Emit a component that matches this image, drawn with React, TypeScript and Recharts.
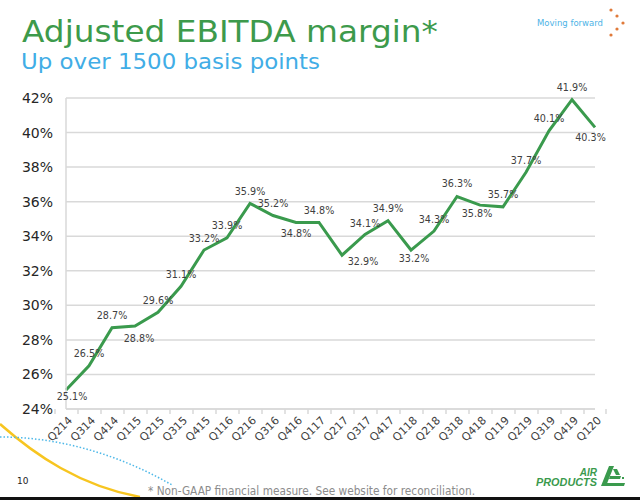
import React from 'react';
import { LineChart, Line, XAxis, YAxis, CartesianGrid, LabelList } from 'recharts';

// quarters and adjusted EBITDA margin (%)
const quarters = [
  'Q214', 'Q314', 'Q414', 'Q115', 'Q215', 'Q315', 'Q415', 'Q116', 'Q216', 'Q316', 'Q416', 'Q117',
  'Q217', 'Q317', 'Q417', 'Q118', 'Q218', 'Q318', 'Q418', 'Q119', 'Q219', 'Q319', 'Q419', 'Q120',
];
const marginPct = [
  25.1, 26.5, 28.7, 28.8, 29.6, 31.1, 33.2, 33.9, 35.9, 35.2, 34.8, 34.8,
  32.9, 34.1, 34.9, 33.2, 34.3, 36.3, 35.8, 35.7, 37.7, 40.1, 41.9, 40.3,
];
const yTicks = [24, 26, 28, 30, 32, 34, 36, 38, 40, 42];

const data = quarters.map((q, i) => ({ q, v: marginPct[i] }));

// where each data label sits relative to its point (label centre)
const labelShift: [number, number][] = [
  [6, 7], [0, -12], [0, -12], [4, 12], [0, -12], [0, -12], [0, -12], [0, -12],
  [0, -12], [0, -12], [0, 11.5], [0, -12], [21, 6.5], [0, -11], [0, -12], [3, 8],
  [0, -12], [0, -12.5], [-3, 8.5], [0, -12], [0, -12], [0, -12], [0, -12.5], [-4.5, 10],
];

const GREEN = '#3a9a4d';
const GRID = '#d9d9d9';
const FONT = 'DejaVu Sans, Verdana, sans-serif';

const renderLabel = (props: any) => {
  const { x, y, value, index } = props;
  const [dx, dy] = labelShift[index] || [0, -12];
  return (
    <text x={x + dx} y={y + dy + 3.5} textAnchor="middle" fontSize={9.6} fontFamily={FONT} fill="#404040">
      {value.toFixed(1)}%
    </text>
  );
};

const XTick = (props: any) => {
  const { x, y, payload, index } = props;
  const half = payload && payload.offset ? payload.offset : 11;
  const ax = x + 7;
  const ay = y + 12;
  return (
    <g>
      <line x1={x - half} x2={x - half} y1={y} y2={y + 5} stroke={GRID} strokeWidth={1.5} />
      {index === quarters.length - 1 && (
        <line x1={x + half} x2={x + half} y1={y} y2={y + 5} stroke={GRID} strokeWidth={1.5} />
      )}
      <text x={ax} y={ay} transform={`rotate(-45, ${ax}, ${ay})`} textAnchor="end" fontSize={11} fontFamily={FONT} fill="#404040">
        {payload.value}
      </text>
    </g>
  );
};

const App: React.FC = () => {
  return (
    <div style={{ position: 'absolute', left: 0, top: 0, width: 640, height: 503, background: '#fff', overflow: 'hidden' }}>
      <svg width={640} height={503} style={{ position: 'absolute', left: 0, top: 0 }}>
        <text x={22} y={42} fontSize={30} fontFamily={FONT} fill="#3d9a4b" textLength={416} lengthAdjust="spacingAndGlyphs">
          Adjusted EBITDA margin*
        </text>
        <text x={21} y={69} fontSize={22} fontFamily={FONT} fill="#41ade6" textLength={299} lengthAdjust="spacingAndGlyphs">
          Up over 1500 basis points
        </text>
        <text x={537} y={26} fontSize={8.5} fontFamily={FONT} fill="#4db3e6" textLength={66} lengthAdjust="spacingAndGlyphs">
          Moving forward
        </text>
        <circle cx={611} cy={10} r={1.6} fill="#e07a3a" />
        <circle cx={617} cy={16} r={1.6} fill="#e07a3a" />
        <circle cx={623} cy={23} r={1.6} fill="#e07a3a" />
        <circle cx={617} cy={29} r={1.6} fill="#e07a3a" />
        <circle cx={611} cy={35} r={1.6} fill="#e07a3a" />

        {/* decorative swooshes bottom-left */}
        <path d="M0,424 C35,455 80,486 140,497" stroke="#f7c520" strokeWidth={2.5} fill="none" />
        <path d="M0,437 C60,437 120,455 172,485" stroke="#4db8e8" strokeWidth={1.5} strokeDasharray="1.5 2" fill="none" />

        <text x={17} y={484} fontSize={9} fontFamily={FONT} fill="#222">10</text>
        <text x={148} y={495} fontSize={11.5} fontFamily={FONT} fill="#8c8c8c" textLength={327} lengthAdjust="spacingAndGlyphs">
          * Non-GAAP financial measure.  See website for reconciliation.
        </text>

        {/* AIR PRODUCTS logo */}
        <text x={597} y={475.5} textAnchor="end" fontSize={10} fontWeight="bold" fontStyle="italic" fontFamily="Liberation Sans, Arial, sans-serif" fill={GREEN}>AIR</text>
        <text x={536} y={486} fontSize={10.5} fontWeight="bold" fontStyle="italic" fontFamily="Liberation Sans, Arial, sans-serif" fill={GREEN} textLength={61} lengthAdjust="spacingAndGlyphs">PRODUCTS</text>
        <polygon points="601,486 606,486 614,466 609,466" fill={GREEN} />
        <polygon points="610,476 621,476 620,479 609,479" fill={GREEN} />
        <polygon points="604,483 625,483 624,486 603,486" fill={GREEN} />
        <polygon points="613,469 617,469 620,475 616,475" fill={GREEN} />
        <rect x={622} y={477} width={2} height={2} fill={GREEN} />
        <rect x={0} y={497} width={640} height={3} fill="#111" />
      </svg>

      <div style={{ position: 'absolute', left: 0, top: 0 }}>
        <LineChart width={640} height={460} data={data} margin={{ top: 98, right: 45, bottom: 0, left: 6 }}>
          <CartesianGrid vertical={false} stroke={GRID} strokeWidth={1.5} />
          <XAxis
            dataKey="q"
            interval={0}
            tickLine={false}
            tickSize={0}
            tickMargin={0}
            height={51}
            axisLine={{ stroke: GRID, strokeWidth: 1.5 }}
            tick={<XTick />}
          />
          <YAxis
            domain={[24, 42]}
            ticks={yTicks}
            width={60}
            tickLine={false}
            tickSize={0}
            tickMargin={13}
            axisLine={{ stroke: GRID, strokeWidth: 1.5 }}
            tickFormatter={(v: number) => `${v}%`}
            tick={{ fontSize: 14, fill: '#262626', fontFamily: FONT }}
          />
          <Line type="linear" dataKey="v" stroke={GREEN} strokeWidth={3} dot={false} isAnimationActive={false}>
            <LabelList dataKey="v" content={renderLabel} />
          </Line>
        </LineChart>
      </div>
    </div>
  );
};

export default App;
